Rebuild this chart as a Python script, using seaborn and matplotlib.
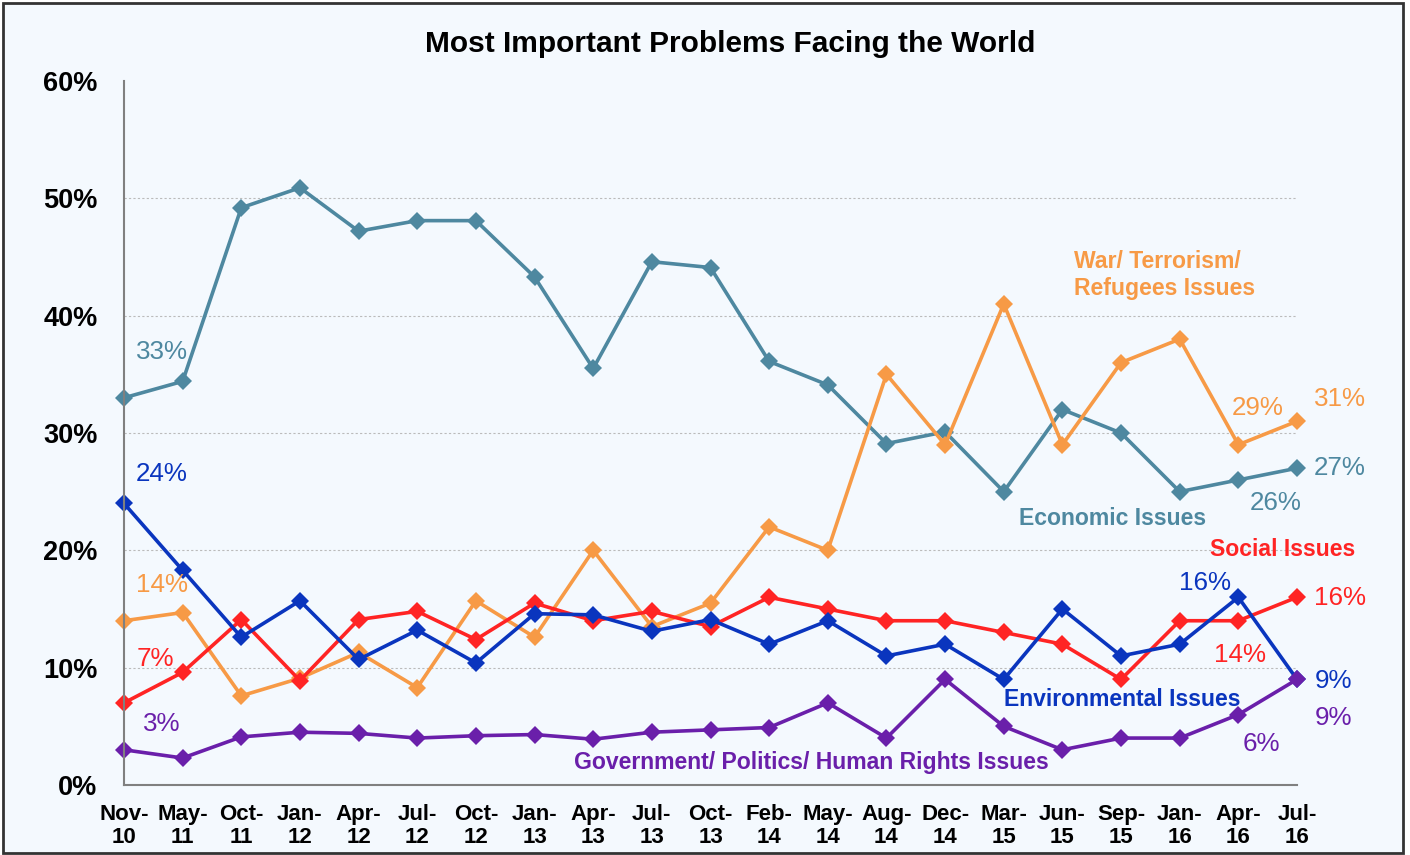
import matplotlib
matplotlib.use("Agg")
import matplotlib.pyplot as plt
import seaborn as sns
import pandas as pd
import numpy as np
from matplotlib.patches import Rectangle

months = ["Nov-\n10", "May-\n11", "Oct-\n11", "Jan-\n12", "Apr-\n12", "Jul-\n12", "Oct-\n12",
          "Jan-\n13", "Apr-\n13", "Jul-\n13", "Oct-\n13", "Feb-\n14", "May-\n14", "Aug-\n14",
          "Dec-\n14", "Mar-\n15", "Jun-\n15", "Sep-\n15", "Jan-\n16", "Apr-\n16", "Jul-\n16"]

economic = [33, 34.4, 49.2, 50.9, 47.2, 48.1, 48.1, 43.3, 35.5, 44.6, 44.1, 36.1, 34.1, 29.1,
            30.1, 25, 32, 30, 25, 26, 27]
war = [14, 14.7, 7.6, 9.1, 11.3, 8.3, 15.7, 12.6, 20, 13.5, 15.5, 22, 20, 35,
       29, 41, 29, 36, 38, 29, 31]
social = [7, 9.6, 14.1, 8.9, 14.1, 14.8, 12.4, 15.5, 14, 14.8, 13.5, 16, 15, 14,
          14, 13, 12, 9, 14, 14, 16]
environmental = [24, 18.3, 12.6, 15.7, 10.7, 13.2, 10.4, 14.6, 14.5, 13.1, 14.1, 12, 14, 11,
                 12, 9, 15, 11, 12, 16, 9]
government = [3, 2.3, 4.1, 4.5, 4.4, 4.0, 4.2, 4.3, 3.9, 4.5, 4.7, 4.9, 7, 4,
              9, 5, 3, 4, 4, 6, 9]

series_names = ["Economic Issues", "War/ Terrorism/ Refugees Issues", "Social Issues",
                "Environmental Issues", "Government/ Politics/ Human Rights Issues"]
colors = {"Economic Issues": "#4E88A0",
          "War/ Terrorism/ Refugees Issues": "#F79A46",
          "Social Issues": "#FF2424",
          "Environmental Issues": "#0A35BE",
          "Government/ Politics/ Human Rights Issues": "#6A1FAA"}

rows = []
for name, vals in zip(series_names, [economic, war, social, environmental, government]):
    for i, v in enumerate(vals):
        rows.append({"idx": i, "value": v, "series": name})
df = pd.DataFrame(rows)

sns.set_theme(style="white")
plt.rcParams['font.family'] = ['Liberation Sans', 'DejaVu Sans']

W, H = 1410, 855
fig = plt.figure(figsize=(W / 100, H / 100), dpi=100)
fig.patch.set_facecolor("white")
bg = "#F4F9FE"
fig.patches.append(Rectangle((3 / W, 2 / H), (1403 - 3) / W, (852 - 2) / H,
                             transform=fig.transFigure, facecolor=bg,
                             edgecolor="#333333", linewidth=2, zorder=-10))

L, R, T, B = 124, 1297, 81, 785
ax = fig.add_axes([L / W, 1 - B / H, (R - L) / W, (B - T) / H])
ax.set_facecolor(bg)

for name in series_names:
    sub = df[df["series"] == name]
    sns.lineplot(data=sub, x="idx", y="value", ax=ax, color=colors[name], linewidth=2.6,
                 marker="D", markersize=9, markeredgewidth=0, legend=False, clip_on=False)

ax.set_xlim(0, len(months) - 1)
ax.set_ylim(0, 60)
ax.set_xticks(range(len(months)))
ax.set_xticklabels(months, fontsize=16, fontweight="bold", linespacing=1.12)
ax.set_yticks(range(0, 61, 10))
ax.set_yticklabels([f"{v}%" for v in range(0, 61, 10)], fontsize=19.5, fontweight="bold")
ax.set_xlabel("")
ax.set_ylabel("")
ax.yaxis.grid(True, linestyle=(0, (2, 2)), color="#BBBBBB", linewidth=0.8)
ax.get_ygridlines()[-1].set_visible(False)
ax.xaxis.grid(False)
ax.set_axisbelow(True)
for s in ["top", "right"]:
    ax.spines[s].set_visible(False)
for s in ["left", "bottom"]:
    ax.spines[s].set_color("#808080")
    ax.spines[s].set_linewidth(1.5)
ax.tick_params(axis="both", which="both", direction="out", length=8, width=1.3,
               color="#808080", labelcolor="black")
ax.tick_params(axis="y", pad=11)
ax.tick_params(axis="x", pad=6)

fig.text(730 / W, 1 - 44 / H, "Most Important Problems Facing the World", fontsize=21.5,
         fontweight="bold", ha="center", va="center", color="black")


def lab(x, y, s, name, size=18.7, weight="normal"):
    fig.text(x / W, 1 - y / H, s, color=colors[name], fontsize=size, fontweight=weight,
             ha="center", va="center", linespacing=1.2, multialignment="left")


eco, wr, so, en, gv = series_names
BS = 16.6
lab(162, 352, "33%", eco)
lab(162, 474, "24%", en)
lab(162, 585, "14%", wr)
lab(155, 659, "7%", so)
lab(162, 724, "3%", gv)
lab(1165, 275, "War/ Terrorism/\nRefugees Issues", wr, size=BS, weight="bold")
lab(1340, 399, "31%", wr)
lab(1258, 408, "29%", wr)
lab(1340, 468, "27%", eco)
lab(1276, 503, "26%", eco)
lab(1113, 518, "Economic Issues", eco, size=BS, weight="bold")
lab(1283, 550, "Social Issues", so, size=BS, weight="bold")
lab(1340, 598, "16%", so)
lab(1205, 583, "16%", en)
lab(1240, 655, "14%", so)
lab(1122, 700, "Environmental Issues", en, size=BS, weight="bold")
lab(1333, 681, "9%", en)
lab(1333, 718, "9%", gv)
lab(1261, 744, "6%", gv)
lab(811, 762, "Government/ Politics/ Human Rights Issues", gv, size=BS, weight="bold")

fig.savefig("out.png", dpi=100, facecolor=fig.get_facecolor())
